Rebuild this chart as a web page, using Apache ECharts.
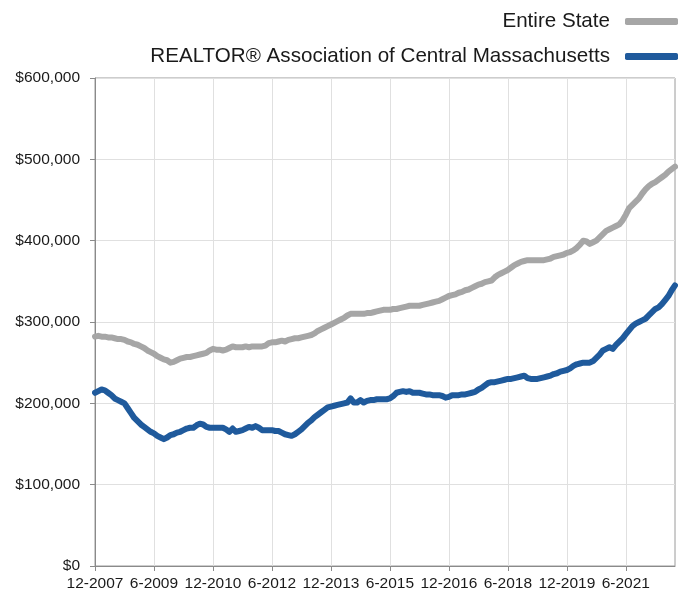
<!DOCTYPE html>
<html>
<head>
<meta charset="utf-8">
<script src="https://cdn.jsdelivr.net/npm/echarts@6/dist/echarts.min.js"></script>
<style>
html,body{margin:0;padding:0;background:#fff;}
#chart{width:688px;height:592px;}
</style>
</head>
<body>
<div id="chart"></div>
<script>
// Monthly categories from 12-2007 to 9-2022
const startMonth = 12, startYear = 2007, monthCount = 178;
const categories = [];
for (let k = 0; k < monthCount; k++) {
  const m = ((startMonth - 1 + k) % 12) + 1;
  const y = startYear + Math.floor((startMonth - 1 + k) / 12);
  categories.push(m + '-' + y);
}
const tickLabels = ['12-2007','6-2009','12-2010','6-2012','12-2013','6-2015','12-2016','6-2018','12-2019','6-2021'];
const seriesNames = ['Entire State', 'REALTOR® Association of Central Massachusetts'];

// values in thousands of dollars
const entireStateK = [
  282,283,282,282,281,281,280,279,279,278,
  276,275,273,272,270,268,265,263,261,258,
  256,254,253,250,251,253,255,256,257,257,
  258,259,260,261,262,265,267,266,266,265,
  266,268,270,269,269,269,270,269,270,270,
  270,270,271,274,275,275,276,277,276,278,
  279,280,280,281,282,283,284,286,289,291,
  293,295,297,299,301,303,305,308,310,310,
  310,310,310,311,311,312,313,314,315,315,
  315,316,316,317,318,319,320,320,320,320,
  321,322,323,324,325,326,328,330,332,333,
  334,336,337,339,340,342,344,346,347,349,
  350,351,355,358,360,362,364,367,370,372,
  374,375,376,376,376,376,376,376,377,378,
  380,381,382,383,385,386,388,391,395,400,
  399,396,398,400,404,408,412,414,416,418,
  420,425,432,440,444,448,452,458,463,467,
  470,472,475,478,481,485,488,491
];
const centralMassK = [
  213,215,217,216,213,210,206,204,202,200,
  194,188,182,178,174,171,168,165,163,160,
  158,156,158,161,162,164,165,167,169,170,
  170,173,175,174,171,170,170,170,170,170,
  168,165,169,165,166,167,169,171,170,172,
  170,167,167,167,167,166,166,164,162,161,
  160,162,165,168,172,176,179,183,186,189,
  192,195,196,197,198,199,200,201,206,201,
  201,204,201,203,204,204,205,205,205,205,
  206,209,213,214,215,214,215,213,213,213,
  212,211,211,210,210,210,209,207,208,210,
  210,210,211,211,212,213,214,217,219,222,
  225,226,226,227,228,229,230,230,231,232,
  233,234,231,230,230,230,231,232,233,234,
  236,237,239,240,241,243,246,248,249,250,
  250,250,252,256,260,265,267,269,267,272,
  276,280,285,290,295,298,300,302,304,308,
  312,316,318,322,327,332,339,345
];

const entireState = entireStateK.map(v => v * 1000);
const centralMass = centralMassK.map(v => v * 1000);

const FONT = "'Liberation Sans', Arial, Helvetica, sans-serif";
const GRAY = '#a6a6a6';
const BLUE = '#1f5a9c';
const showTick = (idx, val) => tickLabels.indexOf(categories[idx]) >= 0;

const chart = echarts.init(document.getElementById('chart'), null, {renderer: 'canvas'});
chart.setOption({
  animation: false,
  backgroundColor: '#ffffff',
  textStyle: {fontFamily: FONT},
  grid: {left: 95, right: 13, top: 78, bottom: 25, containLabel: false,
         show: true, borderColor: '#9a9a9a', borderWidth: 1},
  legend: [
    {
      data: [seriesNames[0]], right: 5, top: 6, orient: 'vertical', align: 'right',
      icon: 'roundRect', itemWidth: 53, itemHeight: 7,
      textStyle: {fontFamily: FONT, fontSize: 20.6, color: '#1a1a1a', padding: [0, 10, 0, 0]}
    },
    {
      data: [seriesNames[1]], right: 5, top: 41, orient: 'vertical', align: 'right',
      icon: 'roundRect', itemWidth: 53, itemHeight: 7,
      textStyle: {fontFamily: FONT, fontSize: 20.6, color: '#1a1a1a', padding: [0, 10, 0, 0]}
    }
  ],
  xAxis: {
    type: 'category',
    data: categories,
    boundaryGap: false,
    axisLine: {show: true, lineStyle: {color: '#8a8a8a', width: 1}},
    axisTick: {show: true, interval: showTick, length: 5, lineStyle: {color: '#8a8a8a'}},
    axisLabel: {interval: showTick, color: '#1a1a1a', fontSize: 15.5, fontFamily: FONT, margin: 10},
    splitLine: {show: true, interval: showTick, lineStyle: {color: '#e0e0e0', width: 1}}
  },
  yAxis: {
    type: 'value',
    min: 0, max: 600000, interval: 100000,
    axisLine: {show: true, lineStyle: {color: '#8a8a8a', width: 1}},
    axisTick: {show: true, length: 5, lineStyle: {color: '#8a8a8a'}},
    axisLabel: {
      color: '#1a1a1a', fontSize: 15.5, fontFamily: FONT, margin: 15,
      formatter: v => '$' + v.toLocaleString('en-US')
    },
    splitLine: {show: true, lineStyle: {color: '#e0e0e0', width: 1}}
  },
  series: [
    {
      name: seriesNames[0], type: 'line', data: entireState, showSymbol: false, symbol: 'none',
      color: GRAY,
      lineStyle: {color: GRAY, width: 6, cap: 'round', join: 'round'}
    },
    {
      name: seriesNames[1], type: 'line', data: centralMass, showSymbol: false, symbol: 'none',
      color: BLUE,
      lineStyle: {color: BLUE, width: 6, cap: 'round', join: 'round'}
    }
  ]
});
</script>
</body>
</html>
